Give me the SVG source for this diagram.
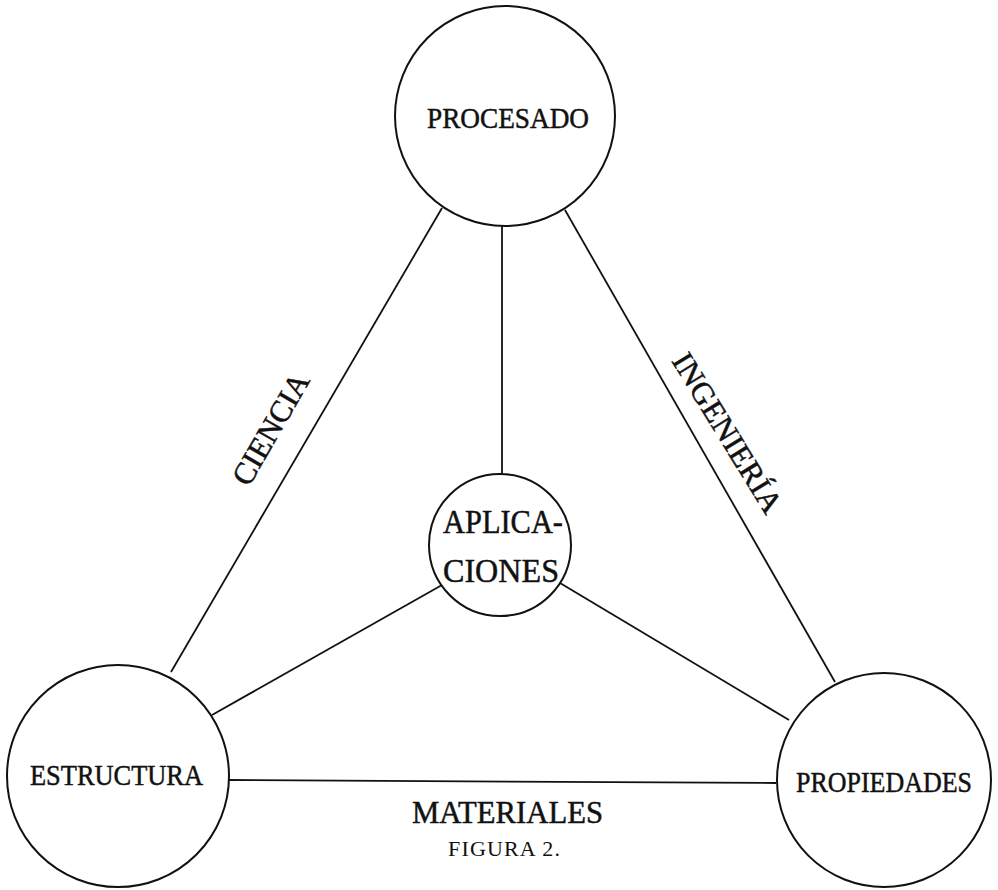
<svg xmlns="http://www.w3.org/2000/svg" width="998" height="890" viewBox="0 0 998 890">
<style>
.node circle{fill:#fff;stroke:#111;stroke-width:2}
.conn line{stroke:#111;stroke-width:1.8;fill:none}
text{font-family:"Liberation Serif","Times New Roman",serif;fill:#111}
.lbl,.big,.edge{stroke:#111;stroke-width:0.5}
.lbl{font-size:30px}
.big{font-size:34px}
.edge{font-size:31px}
.mat{font-size:32px}
.cap{font-size:22px}
</style>
<rect width="998" height="890" fill="#fff"/>
<g id="connectors" class="conn">
<line x1="442" y1="208" x2="171" y2="672"/>
<line x1="565" y1="210" x2="835" y2="682"/>
<line x1="502" y1="226" x2="502" y2="474"/>
<line x1="442" y1="585" x2="212" y2="715"/>
<line x1="560" y1="583" x2="789" y2="720"/>
<line x1="229" y1="780" x2="776" y2="783"/>
</g>
<g id="procesado" class="node">
<circle cx="505" cy="116" r="110"/>
<text class="lbl" x="427" y="128" textLength="162" lengthAdjust="spacingAndGlyphs">PROCESADO</text>
</g>
<g id="aplicaciones" class="node">
<circle cx="500" cy="545" r="71"/>
<text class="big" x="443" y="533" textLength="120" lengthAdjust="spacingAndGlyphs">APLICA-</text>
<text class="big" x="443" y="582" textLength="116" lengthAdjust="spacingAndGlyphs">CIONES</text>
</g>
<g id="estructura" class="node">
<circle cx="118" cy="776" r="111"/>
<text class="lbl" x="30" y="785" textLength="173" lengthAdjust="spacingAndGlyphs">ESTRUCTURA</text>
</g>
<g id="propiedades" class="node">
<circle cx="884" cy="780" r="107"/>
<text class="lbl" x="884" y="792" text-anchor="middle" textLength="176" lengthAdjust="spacingAndGlyphs">PROPIEDADES</text>
</g>
<g id="labels">
<text class="edge" transform="translate(271,429) rotate(-60)" x="-62" y="10" textLength="124" lengthAdjust="spacingAndGlyphs">CIENCIA</text>
<text class="edge" transform="translate(727,433) rotate(58.5)" x="-91" y="10" textLength="182" lengthAdjust="spacingAndGlyphs">INGENIERÍA</text>
<text class="edge mat" x="412" y="823" textLength="191" lengthAdjust="spacingAndGlyphs">MATERIALES</text>
<text class="cap" x="448" y="856" textLength="112" lengthAdjust="spacing">FIGURA 2.</text>
</g>
</svg>
